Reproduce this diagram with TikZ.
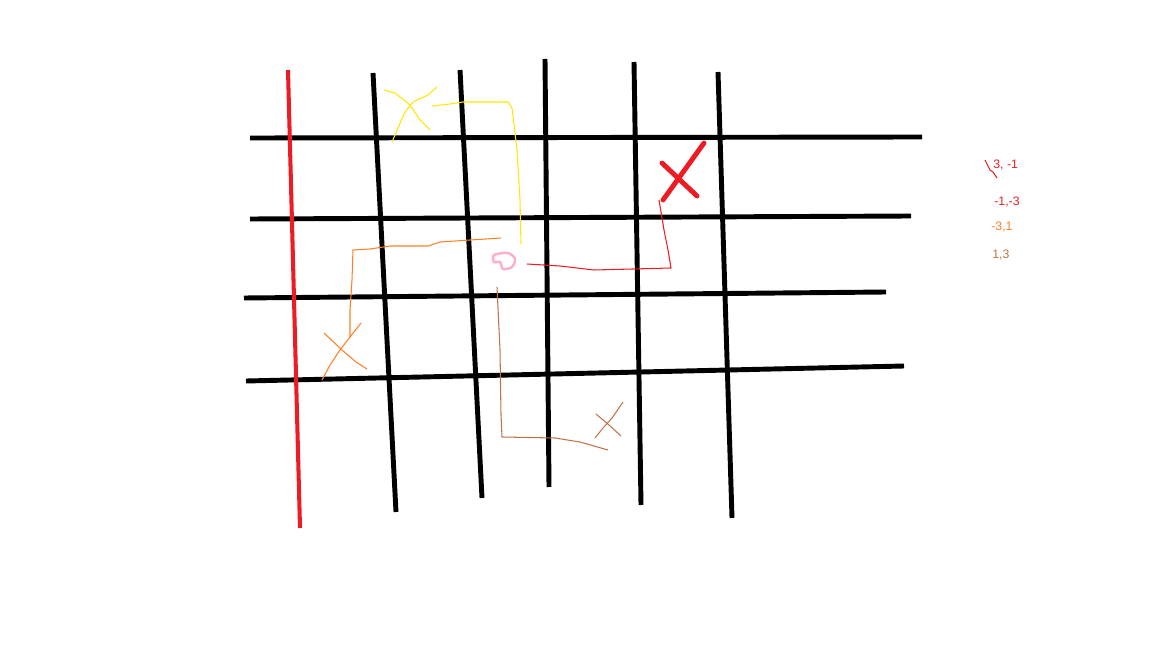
\documentclass[tikz,border=0pt]{standalone}
\usepackage{fontspec}
\setmainfont{Liberation Sans}
\usetikzlibrary{calc, positioning}

\definecolor{paintred}{RGB}{237,28,36}
\definecolor{paintyellow}{RGB}{255,230,0}
\definecolor{paintorange}{RGB}{255,127,39}
\definecolor{paintbrown}{RGB}{190,115,75}
\definecolor{paintpink}{RGB}{255,174,201}

\tikzset{
  gridline/.style={line width=2.8pt, black},
  wall/.style={line width=2.3pt, paintred},
  trail/.style={line width=0.6pt, line join=round},
  coordlabel/.style={font=\fontsize{7}{8}\selectfont, inner sep=0pt, anchor=west},
}

\begin{document}
\begin{tikzpicture}[x=0.02cm, y=-0.02cm]
\useasboundingbox (0,0) rectangle (1152,648);
% Horizontal lines
\draw[gridline] (250,138) -- (922,137);
\draw[gridline] (250,219) -- (911,216);
\draw[gridline] (244,298) -- (886,292);
\draw[gridline] (246,381) -- (904,366);
% Vertical lines
\draw[gridline] (373,73) -- (396,512);
\draw[gridline] (460,70) -- (482,498);
\draw[gridline] (545,59) -- (549,487);
\draw[gridline] (634,62) -- (641,505);
\draw[gridline] (718,72) -- (732,518);
% Red border
\draw[wall] (288,70) -- (300,528);
% Target cross
\draw[paintred, line width=2.8pt, line cap=round] (704,143) -- (663,200);
\draw[paintred, line width=2.8pt, line cap=round] (662,163) -- (697,196);
% Start point
\draw[paintpink, line width=1.4pt] plot[smooth cycle] coordinates {(494,255) (508,253) (515,259) (512,267) (503,269) (500,262) (494,262)};
% Paths from start
\draw[trail, paintred] (527,264) -- (560,266) -- (594,270) -- (671,268) -- (668,250) -- (664,230) -- (659,200);
\draw[trail, paintyellow] (521,244) -- (520,200) -- (517,150) -- (512,108) -- (508,102) -- (463,102) -- (450,104) -- (432,106);
\draw[trail, paintorange] (501,238) -- (470,240) -- (440,242) -- (428,246) -- (390,246) -- (370,249) -- (353,250) -- (352,280) -- (350,310) -- (350,337);
\draw[trail, paintbrown] (497,287) -- (500,350) -- (501,415) -- (502,437) -- (555,438) -- (580,442) -- (608,450);
% Crosses at the ends
\draw[trail, paintyellow] (384,90) -- (395,93) -- (410,105) -- (420,120) -- (430,130);
\draw[trail, paintyellow] (437,87) -- (428,95) -- (413,102) -- (405,112) -- (398,128) -- (392,142);
\draw[trail, paintorange] (324,333) -- (342,350) -- (356,362) -- (367,369);
\draw[trail, paintorange] (361,323) -- (350,337) -- (340,350) -- (330,365) -- (322,380);
\draw[trail, paintbrown] (623,402) -- (612,418) -- (603,428) -- (595,438);
\draw[trail, paintbrown] (596,414) -- (609,425) -- (621,436);
% Labels
\draw[trail, paintred] (985,160) -- (990,170) -- (993,172) -- (997,178);
\node[coordlabel, text=paintred] (lbl1) at (993,165) {3, -1};
\node[coordlabel, text=paintred] (lbl2) at (994,202) {-1,-3};
\node[coordlabel, text=paintorange] (lbl3) at (991,227) {-3,1};
\node[coordlabel, text=paintbrown] (lbl4) at (992,255) {1,3};
\end{tikzpicture}
\end{document}
